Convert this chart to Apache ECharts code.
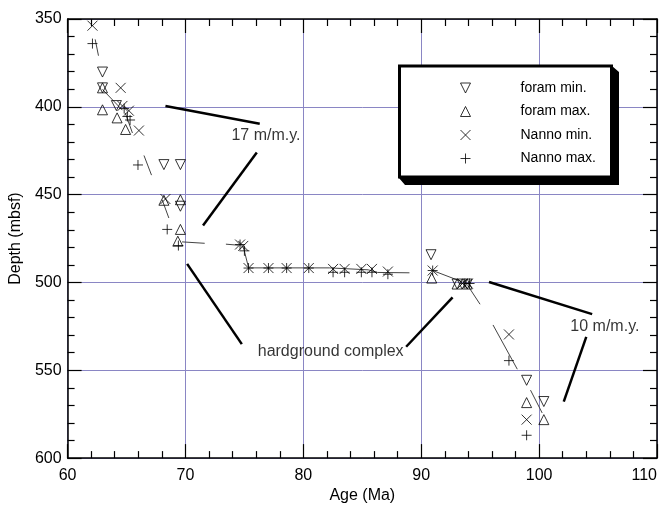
<!DOCTYPE html>
<html>
<head>
<meta charset="utf-8">
<script src="https://cdn.jsdelivr.net/npm/echarts@6/dist/echarts.min.js"></script>
<style>
html,body{margin:0;padding:0;background:#fff;}
#chart{width:660px;height:509px;}
</style>
</head>
<body>
<div id="chart"></div>
<script>
// ---- data (age in Ma, depth in mbsf) ----
const foramMin = [[62.96,380.2],[62.96,389.2],[64.14,399.3],[68.17,432.9],[69.57,432.9],[69.57,456.6],[90.83,484.2],[93.04,500.9],[93.9,500.9],[98.94,555.7],[100.4,567.8]];
const foramMax = [[62.96,389.2],[62.96,401.7],[64.2,406.3],[64.92,412.9],[68.17,453.2],[69.57,452.9],[69.57,469.8],[69.35,476.5],[90.89,497.5],[93.04,500.9],[93.9,500.9],[98.94,568.4],[100.4,578.1]];
const nannoMin = [[62.11,353.8],[64.5,389.2],[64.65,399.5],[65.2,402.2],[66.05,413.5],[68.3,452.5],[74.63,478.4],[74.9,479.2],[75.35,491.8],[77.04,491.8],[78.58,491.8],[80.46,491.8],[82.52,492.3],[83.5,492.3],[84.92,492.3],[85.82,492.3],[87.17,493.8],[90.97,493.2],[93.5,500.6],[93.95,500.6],[97.44,529.6],[98.94,578.1]];
const nannoMax = [[62.11,364],[64.8,401],[65.07,405.5],[65.3,407.5],[65.97,433.1],[68.45,469.8],[69.4,479],[74.63,478.4],[75.0,482],[75.35,491.8],[77.04,491.8],[78.58,491.8],[80.46,491.8],[82.52,494.2],[83.5,494.2],[84.92,494.2],[85.82,494.2],[87.17,495.3],[90.97,493.2],[93.7,500.6],[94.1,500.6],[97.44,544.5],[98.94,587]];

// thin age-model segments
const modelSegments = [
  [[62.34,361.6],[62.62,370.9]],
  [[62.96,390.1],[64.65,401.9]],
  [[64.9,403.6],[65.5,414.9]],
  [[66.48,427.7],[67.12,438.9]],
  [[68.02,452.9],[68.59,463.3]],
  [[69.71,476.9],[71.63,477.7]],
  [[73.43,478.2],[74.5,478.8]],
  [[74.92,480.1],[75.34,491.3]],
  [[75.35,491.7],[82.2,491.7],[85.5,492.8],[86.3,494.3],[89.0,494.5]],
  [[90.97,493.2],[93.5,499.7]],
  [[93.93,501.6],[94.99,512.4]],
  [[96.09,524.2],[98.15,549.4]],
  [[99.27,561.3],[100.26,574.3]]
];

// annotation leader lines
const leaderLines = [
  [[68.30,399.5],[76.3,409.6]],
  [[71.49,467.6],[76.05,426.0]],
  [[70.14,489.4],[74.78,535.1]],
  [[88.72,536.6],[92.66,508.5]],
  [[95.75,499.7],[104.5,518.0]],
  [[102.09,567.8],[104.0,531.0]]
];

const annotationTexts = ['17 m/m.y.', 'hardground complex', '10 m/m.y.'];
const annotationAt = [[73.9,416.3],[76.13,539.2],[102.65,525.0]];

const legendNames = ['foram min.', 'foram max.', 'Nanno min.', 'Nanno max.'];
const ageTicks = [60, 70, 80, 90, 100, 110];
const depthTicks = [350, 400, 450, 500, 550, 600];

// ---- chart ----
const FONT = "'Liberation Sans', Arial, sans-serif";
const symDown = 'path://M0,0 L10,0 L5,10 Z';
const symUp = 'path://M5,0 L10,10 L0,10 Z';
const symX = 'path://M0,0 L10,10 M10,0 L0,10';
const symPlus = 'path://M5,0 L5,10 M0,5 L10,5';

function markerSeries(name, data, symbol) {
  return {
    name: name, type: 'scatter', data: data, symbol: symbol, symbolSize: 10,
    symbolKeepAspect: true,
    itemStyle: { color: 'rgba(0,0,0,0)', borderColor: '#000', borderWidth: 1 },
    emphasis: { disabled: true }, z: 3
  };
}

const commonX = {
  type: 'value', min: ageTicks[0], max: ageTicks[ageTicks.length - 1], interval: ageTicks[1] - ageTicks[0],
  axisLine: { show: true, onZero: false, lineStyle: { color: '#000', width: 1.5 } },
  axisTick: { show: true, inside: true, length: 14, lineStyle: { color: '#000', width: 1.2 } },
  minorTick: { show: true, splitNumber: 5, length: 7, lineStyle: { color: '#000', width: 1.2 } }
};
const commonY = {
  type: 'value', inverse: true, min: depthTicks[0], max: depthTicks[depthTicks.length - 1], interval: depthTicks[1] - depthTicks[0],
  axisLine: { show: true, onZero: false, lineStyle: { color: '#000', width: 1.5 } },
  axisTick: { show: true, inside: true, length: 14, lineStyle: { color: '#000', width: 1.2 } },
  minorTick: { show: true, splitNumber: 5, length: 7, lineStyle: { color: '#000', width: 1.2 } }
};

const series = [];
modelSegments.forEach(seg => series.push({
  type: 'line', data: seg, symbol: 'none', silent: true, z: 2,
  lineStyle: { color: '#444', width: 1 }
}));
leaderLines.forEach(seg => series.push({
  type: 'line', data: seg, symbol: 'none', silent: true, z: 2,
  lineStyle: { color: '#000', width: 2.5 }
}));
series.push(markerSeries(legendNames[0], foramMin, symDown));
series.push(markerSeries(legendNames[1], foramMax, symUp));
series.push(markerSeries(legendNames[2], nannoMin, symX));
series.push(markerSeries(legendNames[3], nannoMax, symPlus));
series.push({
  type: 'scatter', symbolSize: 0, silent: true, z: 4,
  data: annotationTexts.map((t, i) => ({ name: t, value: annotationAt[i] })),
  label: { show: true, position: 'right', distance: 0, formatter: p => p.name,
           fontSize: 16, color: '#000', fontFamily: FONT }
});

const chart = echarts.init(document.getElementById('chart'), null, { renderer: 'canvas' });
chart.setOption({
  animation: false,
  backgroundColor: '#fff',
  grid: { left: 65, right: 3, top: 19, bottom: 43, containLabel: false },
  xAxis: [
    Object.assign({}, commonX, {
      position: 'bottom',
      splitLine: { show: true, lineStyle: { color: '#8a86c4', width: 1 } },
      axisLabel: { fontSize: 16, color: '#000', margin: 9, fontFamily: FONT, alignMaxLabel: 'right' },
      name: 'Age (Ma)', nameLocation: 'middle', nameGap: 25,
      nameTextStyle: { fontSize: 16, color: '#000', fontFamily: FONT }
    }),
    Object.assign({}, commonX, { position: 'top', splitLine: { show: false }, axisLabel: { show: false } })
  ],
  yAxis: [
    Object.assign({}, commonY, {
      position: 'left',
      splitLine: { show: true, lineStyle: { color: '#8a86c4', width: 1 } },
      axisLabel: { fontSize: 16, color: '#000', margin: 6, fontFamily: FONT },
      name: 'Depth (mbsf)', nameLocation: 'middle', nameGap: 37,
      nameTextStyle: { fontSize: 16, color: '#000', fontFamily: FONT }
    }),
    Object.assign({}, commonY, { position: 'right', splitLine: { show: false }, axisLabel: { show: false } })
  ],
  legend: {
    data: legendNames, orient: 'vertical', left: 460, top: 81, z: 10, padding: 0,
    itemWidth: 10, itemHeight: 10, itemGap: 9.5, selectedMode: false,
    itemStyle: { color: 'rgba(0,0,0,0)', borderColor: '#000', borderWidth: 1 },
    textStyle: { fontSize: 14, color: '#000', fontFamily: FONT, padding: [0, 0, 0, 45], lineHeight: 14 }
  },
  graphic: [
    { type: 'polygon', z: 8, silent: true,
      shape: { points: [[612, 66], [619, 72], [619, 185], [405, 185], [399, 178], [612, 178]] },
      style: { fill: '#000' } },
    { type: 'rect', z: 9, silent: true,
      shape: { x: 399.5, y: 66, width: 212, height: 111 },
      style: { fill: '#fff', stroke: '#000', lineWidth: 3 } }
  ],
  series: series
});
</script>
</body>
</html>
